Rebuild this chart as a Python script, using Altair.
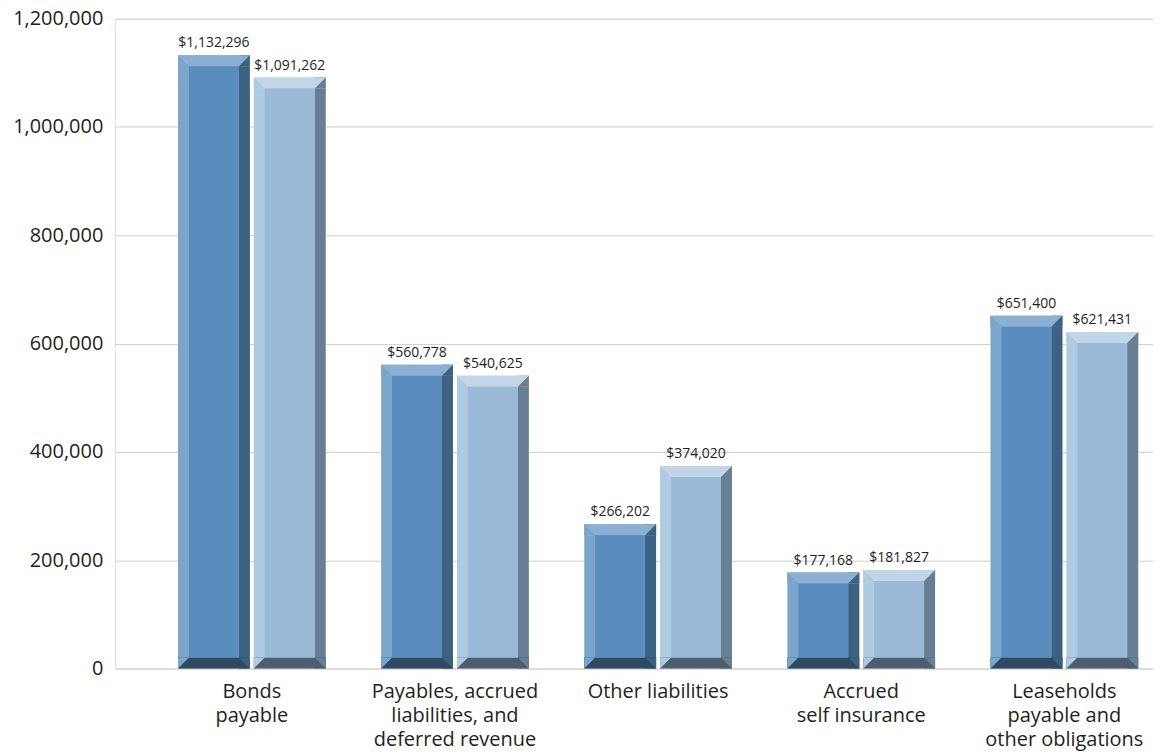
import altair as alt
import pandas as pd

categories = [
    "Bonds\npayable",
    "Payables, accrued\nliabilities, and\ndeferred revenue",
    "Other liabilities",
    "Accrued\nself insurance",
    "Leaseholds\npayable and\nother obligations",
]
series = ["Current year", "Prior year"]
values_current = [1132296, 560778, 266202, 177168, 651400]
values_prior = [1091262, 540625, 374020, 181827, 621431]
y_ticks = [0, 200000, 400000, 600000, 800000, 1000000, 1200000]

# bevel face colours per series
face_inner = ["#5a8dbd", "#9abad7"]
face_top = ["#8cb0d3", "#c2d6e7"]
face_left = ["#7aa6cc", "#aecbe2"]
face_right = ["#3c6182", "#687f93"]
face_bottom = ["#2e4a63", "#4d5d6e"]

rows = []
for c, a, b in zip(categories, values_current, values_prior):
    for i, v in enumerate([a, b]):
        rows.append({
            "category": c, "series": series[i], "value": v,
            "c_inner": face_inner[i], "c_top": face_top[i], "c_left": face_left[i],
            "c_right": face_right[i], "c_bottom": face_bottom[i],
        })
df = pd.DataFrame(rows)

FONT = "Open Sans"
TXT = "#231f20"
BEV = 11

x_enc = alt.X(
    "category:N", sort=categories,
    scale=alt.Scale(paddingInner=0.273, paddingOuter=0.192, align=0.81),
    axis=alt.Axis(title=None, labelAngle=0, domain=False, ticks=False, grid=False,
                  labelFontSize=20, labelFont=FONT, labelColor=TXT, labelPadding=13,
                  labelLineHeight=24, labelLimit=300,
                  labelExpr="split(datum.label, '\\n')"),
)

# sub-band layouts inside each category group (bar 72px, gap 4px, bevel 11px)
def xo(pi, po, align):
    return alt.XOffset("series:N", sort=series,
                       scale=alt.Scale(type="band", paddingInner=pi, paddingOuter=po, align=align))

xo_full = xo(0.0526, 0, 0.5)
xo_left = xo(0.855, 0.401, 0.0)
xo_right = xo(0.855, 0.401, 1.0)
xo_inner = xo(0.342, 0.1447, 0.5)

y_scale = alt.Scale(domain=[0, 1200000], nice=False)
y_axis = alt.Axis(title=None, values=y_ticks, format=",d", domain=False, ticks=False,
                  grid=True, gridColor="#cfcfcf", gridWidth=1,
                  labelFontSize=20, labelFont=FONT, labelColor=TXT, labelPadding=12)
y_val = alt.Y("value:Q", scale=y_scale, axis=y_axis)
y_zero = alt.Y(datum=0, type="quantitative", scale=y_scale, axis=y_axis)
y2_zero = alt.Y2(datum=0)

base = alt.Chart(df)

def col(field):
    return alt.Color(field + ":N", scale=None)

full_face = base.mark_bar().encode(x=x_enc, xOffset=xo_full, y=y_val, y2=y2_zero, color=col("c_left"))
right_face = base.mark_bar().encode(x=x_enc, xOffset=xo_right, y=y_val, y2=y2_zero, color=col("c_right"))
top_face = base.mark_bar(y2Offset=BEV).encode(
    x=x_enc, xOffset=xo_full, y=y_val, y2=alt.Y2("value"), color=col("c_top"))
bottom_face = base.mark_bar(yOffset=-BEV).encode(
    x=x_enc, xOffset=xo_full, y=y_zero, y2=y2_zero, color=col("c_bottom"))

def corner(path, xoff, top, field):
    mk = base.mark_point(shape=path, size=BEV * BEV, filled=True, opacity=1, strokeWidth=0,
                         yOffset=(BEV / 2 if top else -BEV / 2))
    return mk.encode(x=x_enc, xOffset=xoff, y=(y_val if top else y_zero), color=col(field))

tl = corner("M-1,-1L-1,1L1,1Z", xo_left, True, "c_left")
tr = corner("M1,-1L1,1L-1,1Z", xo_right, True, "c_right")
bl = corner("M-1,-1L-1,1L1,-1Z", xo_left, False, "c_left")
br = corner("M-1,-1L1,-1L1,1Z", xo_right, False, "c_right")

inner_face = base.mark_bar(yOffset=BEV, y2Offset=-BEV).encode(
    x=x_enc, xOffset=xo_inner, y=y_val, y2=y2_zero, color=col("c_inner"))

labels = base.mark_text(baseline="bottom", dy=-5, fontSize=14, font=FONT, color=TXT).encode(
    x=x_enc, xOffset=xo_full, y=y_val, text=alt.Text("value:Q", format="$,d"))

chart = alt.layer(
    full_face, right_face, top_face, bottom_face, tl, tr, bl, br, inner_face, labels
).resolve_scale(
    xOffset="independent"
).properties(
    width=1040, height=651,
    autosize=alt.AutoSizeParams(type="none"),
    padding={"left": 107, "top": 10, "right": 0, "bottom": 84},
).configure_view(stroke=None).configure(background="white")

chart.save("out.html", embed_options={"renderer": "svg", "actions": False})
